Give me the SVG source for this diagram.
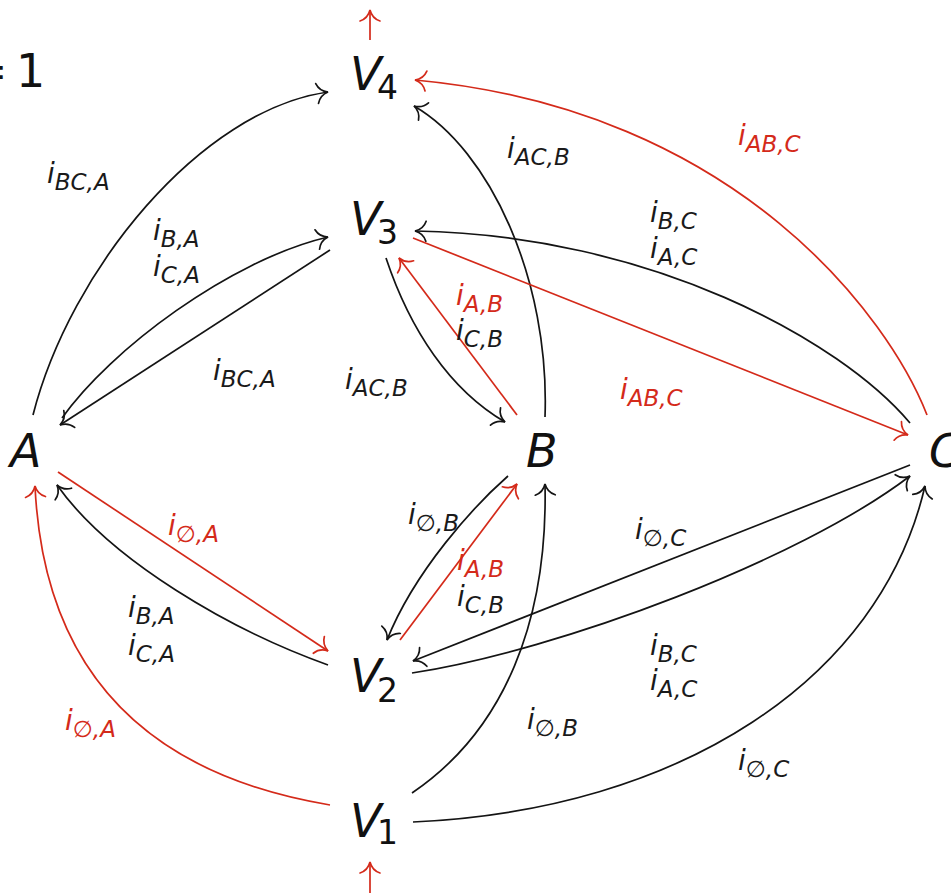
<svg xmlns="http://www.w3.org/2000/svg" width="951" height="894" viewBox="0 0 951 894">
<defs>
<style>
.e{fill:none;stroke:#141414;stroke-width:1.7}
.r{fill:none;stroke:#d42a1a;stroke-width:1.7}
.eb{marker-end:url(#ah)}
.rb{marker-end:url(#ahr)}
.n{font-family:"DejaVu Sans",sans-serif;font-style:italic;font-size:46px;fill:#111}
.d{font-family:"DejaVu Sans",sans-serif;font-style:normal;font-size:33px;fill:#111}
.big{font-size:46px}
.l{font-family:"DejaVu Sans",sans-serif;font-style:italic;font-size:28px;fill:#1a1a1a}
.l tspan{font-size:23px}
.lr{fill:#d42a1a}
</style>
<marker id="ah" viewBox="-15 -15 30 30" markerWidth="30" markerHeight="30" markerUnits="userSpaceOnUse" refX="0" refY="0" orient="auto" overflow="visible">
<path d="M-11,-10 C-9,-4 -4,-1 0,0 C-4,1 -9,4 -11,10" fill="none" stroke="#141414" stroke-width="1.7" stroke-linecap="round"/>
</marker>
<marker id="ahr" viewBox="-15 -15 30 30" markerWidth="30" markerHeight="30" markerUnits="userSpaceOnUse" refX="0" refY="0" orient="auto" overflow="visible">
<path d="M-11,-10 C-9,-4 -4,-1 0,0 C-4,1 -9,4 -11,10" fill="none" stroke="#d42a1a" stroke-width="1.7" stroke-linecap="round"/>
</marker>
</defs>
<rect width="951" height="894" fill="#ffffff"/>

<text class="d big" x="-31 0 16" y="87">= 1</text>

<g id="connectors">
<path class="e eb" d="M33,415 C70,270 200,110 328,92"/>
<path class="e eb" d="M62,418 C110,350 230,260 328,237"/>
<path class="e eb" d="M330,250 L60,425"/>
<path class="e eb" d="M545,417 C550,280 490,150 414,106"/>
<path class="r rb" d="M927,415 C890,320 740,110 415,80"/>
<path class="e eb" d="M910,423 C840,340 650,235 415,231"/>
<path class="r rb" d="M413,238 L908,435"/>
<path class="e eb" d="M386,258 C410,330 450,390 505,422"/>
<path class="r rb" d="M517,415 L399,258"/>
<path class="r rb" d="M58,472 L328,651"/>
<path class="e eb" d="M328,665 C230,630 110,560 57,485"/>
<path class="r rb" d="M330,805 C180,780 45,700 35,486"/>
<path class="e eb" d="M508,476 C475,505 415,570 387,640"/>
<path class="r rb" d="M400,640 L517,484"/>
<path class="e eb" d="M412,793 C505,730 548,620 545,484"/>
<path class="e eb" d="M910,465 L413,661"/>
<path class="e eb" d="M412,673 C560,650 800,560 910,476"/>
<path class="e eb" d="M413,822 C680,810 880,680 925,486"/>
<path class="r rb" d="M370,40 L370,10"/>
<path class="r rb" d="M370,893 L370,862"/>
</g>

<g id="edge-labels">
<text class="l" x="47" y="183">i<tspan dy="7">BC,A</tspan></text>
<text class="l" x="153" y="240">i<tspan dy="7">B,A</tspan></text>
<text class="l" x="153" y="276">i<tspan dy="7">C,A</tspan></text>
<text class="l" x="213" y="380">i<tspan dy="7">BC,A</tspan></text>
<text class="l" x="345" y="389">i<tspan dy="7">AC,B</tspan></text>
<text class="l" x="507" y="158">i<tspan dy="7">AC,B</tspan></text>
<text class="l lr" x="738" y="145">i<tspan dy="7">AB,C</tspan></text>
<text class="l" x="650" y="222">i<tspan dy="7">B,C</tspan></text>
<text class="l" x="650" y="258">i<tspan dy="7">A,C</tspan></text>
<text class="l lr" x="456" y="305">i<tspan dy="7">A,B</tspan></text>
<text class="l" x="456" y="340">i<tspan dy="7">C,B</tspan></text>
<text class="l lr" x="620" y="399">i<tspan dy="7">AB,C</tspan></text>
<text class="l lr" x="168" y="535">i<tspan dy="7">∅,A</tspan></text>
<text class="l" x="128" y="617">i<tspan dy="7">B,A</tspan></text>
<text class="l" x="128" y="655">i<tspan dy="7">C,A</tspan></text>
<text class="l lr" x="65" y="730">i<tspan dy="7">∅,A</tspan></text>
<text class="l" x="408" y="524">i<tspan dy="7">∅,B</tspan></text>
<text class="l lr" x="457" y="570">i<tspan dy="7">A,B</tspan></text>
<text class="l" x="457" y="606">i<tspan dy="7">C,B</tspan></text>
<text class="l" x="635" y="539">i<tspan dy="7">∅,C</tspan></text>
<text class="l" x="650" y="655">i<tspan dy="7">B,C</tspan></text>
<text class="l" x="650" y="690">i<tspan dy="7">A,C</tspan></text>
<text class="l" x="527" y="729">i<tspan dy="7">∅,B</tspan></text>
<text class="l" x="738" y="770">i<tspan dy="7">∅,C</tspan></text>
</g>

<g id="V4"><text class="n" x="350" y="90">V</text><text class="d" x="377" y="99">4</text></g>
<g id="V3"><text class="n" x="350" y="235">V</text><text class="d" x="377" y="244">3</text></g>
<g id="A"><text class="n" x="10" y="467">A</text></g>
<g id="B"><text class="n" x="526" y="467">B</text></g>
<g id="C"><text class="n" x="929" y="467">C</text></g>
<g id="V2"><text class="n" x="350" y="692">V</text><text class="d" x="377" y="702">2</text></g>
<g id="V1"><text class="n" x="350" y="837">V</text><text class="d" x="377" y="844">1</text></g>
</svg>
